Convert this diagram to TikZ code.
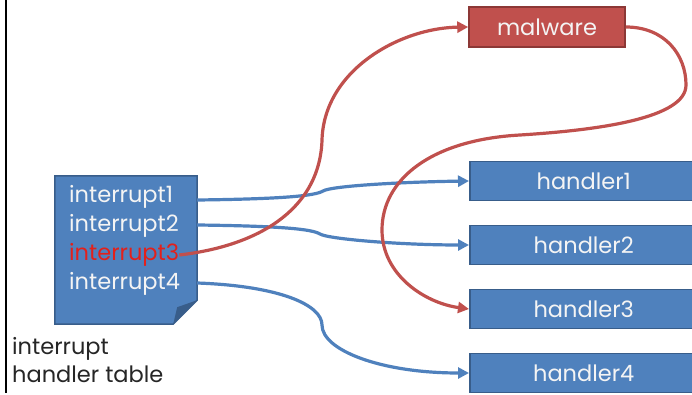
\documentclass[tikz,border=0pt]{standalone}
\usepackage{fontspec}
\setmainfont{Poppins}
\usetikzlibrary{arrows.meta}
\definecolor{bfill}{HTML}{4F81BD}
\definecolor{bdraw}{HTML}{385D8A}
\definecolor{rfill}{HTML}{C0504D}
\definecolor{rdraw}{HTML}{8C3836}
\definecolor{itred}{HTML}{E3201B}
\definecolor{wtext}{HTML}{F4F4F4}
\definecolor{ltext}{HTML}{262626}
\tikzset{
  fnt/.style={font=\fontsize{22.5}{26}\selectfont},
  hbox/.style={draw=bdraw, fill=bfill, line width=1.5pt, minimum width=228pt, minimum height=39pt, inner sep=0pt, text=wtext, fnt},
  mbox/.style={draw=rdraw, fill=rfill, line width=1.5pt, minimum width=156pt, minimum height=40pt, inner sep=0pt, text=wtext, fnt},
  itxt/.style={anchor=west, inner sep=0pt, text=wtext, fnt},
  bline/.style={draw=bfill, line width=3.2pt, -{Triangle[length=11pt,width=11pt]}},
  rline/.style={draw=rfill, line width=3.2pt, -{Triangle[length=11pt,width=11pt]}},
}
\begin{document}
\begin{tikzpicture}[x=1pt,y=-1pt]
\useasboundingbox (0,0) rectangle (692,395);
\clip (0,0) rectangle (692,395);
\fill[white] (0,0) rectangle (692,395);
\draw[black, line width=2pt] (6,0) -- (6,393);
% table
\node[minimum width=142pt, minimum height=148pt, inner sep=0pt] (tbl) at (126,250) {};
\draw[bdraw, fill=bfill, line width=1.5pt] (tbl.north west) -- (tbl.north east) -- ([yshift=24pt]tbl.south east) -- ([xshift=-24pt]tbl.south east) -- (tbl.south west) -- cycle;
\fill[bdraw] ([yshift=24pt]tbl.south east) -- ([xshift=-24pt]tbl.south east) -- ([xshift=-20pt,yshift=17pt]tbl.south east) -- cycle;
\node[itxt] (i1) at (69,197) {interrupt1};
\node[itxt] (i2) at (69,226) {interrupt2};
\node[itxt, text=itred] (i3) at (69,255) {interrupt3};
\node[itxt] (i4) at (69,284) {interrupt4};
\node[anchor=north west, inner sep=0pt, align=left, text=ltext, font=\fontsize{22.5}{28}\selectfont] (lbl) at (12,337) {interrupt\\handler table};
% right side
\node[mbox] (m) at (547,27) {malware};
\node[hbox, anchor=west] (h1) at (469,181) {handler1};
\node[hbox, anchor=west] (h2) at (469,245) {handler2};
\node[hbox, anchor=west] (h3) at (469,309) {handler3};
\node[hbox, anchor=west] (h4) at (469,373) {handler4};
% blue connectors
\coordinate (s1) at (tbl.east |- 0,200);
\coordinate (s2) at (tbl.east |- 0,225);
\coordinate (s4) at (tbl.east |- 0,283);
\draw[bline] (s1) .. controls (280,199) and (315,196) .. (323,191) .. controls (331,186) and (400,182) .. (h1.west);
\draw[bline] (s2) .. controls (280,226) and (312,229) .. (320,234) .. controls (328,239) and (400,245) .. (h2.west);
\draw[bline] (s4) .. controls (280,286) and (322,305) .. (322,325) .. controls (322,350) and (380,373) .. (h4.west);
% red connectors
\draw[rline] (i3.east) .. controls (265,245) and (320,205) .. (322,140) .. controls (324,70) and (400,28) .. (m.west);
\draw[rline] (m.east) .. controls (665,27) and (686,55) .. (686,85) .. controls (686,118) and (600,130) .. (520,135) .. controls (430,140) and (382,180) .. (382,230) .. controls (382,275) and (425,303) .. (h3.west);
\end{tikzpicture}
\end{document}
